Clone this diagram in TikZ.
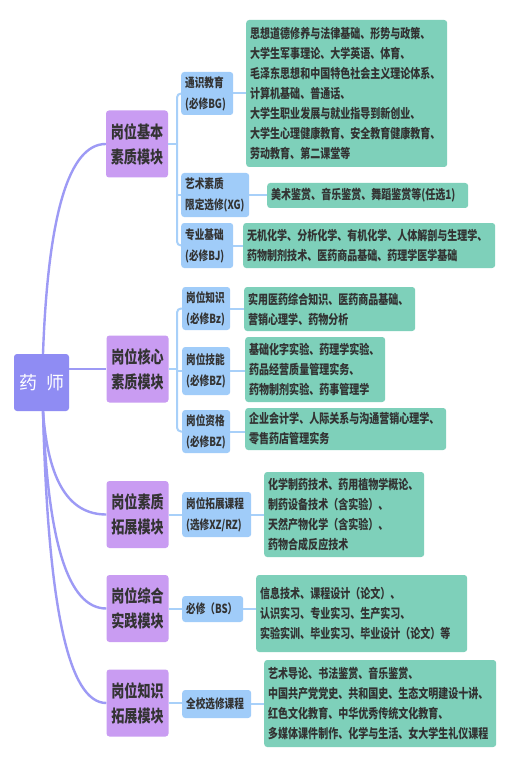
\documentclass[tikz,border=0pt]{standalone}
\usepackage{fontspec}
\setmainfont{Noto Sans CJK SC}[FakeStretch=0.77]
\newfontfamily\rootfont{Noto Sans CJK SC}
\definecolor{rootc}{HTML}{8F8CF3}
\definecolor{lonec}{HTML}{C99CF2}
\definecolor{ltwoc}{HTML}{A0CCF9}
\definecolor{lthreec}{HTML}{7ED0BA}
\definecolor{rline}{HTML}{9D9AF5}
\definecolor{bline}{HTML}{A8D0F9}
\definecolor{txt}{HTML}{333333}
\tikzset{
  box/.style={rounded corners=3pt, inner ysep=0pt, text=txt},
  lone/.style={box, fill=lonec, minimum width=62pt, minimum height=67pt, inner xsep=0pt,
    font=\fontsize{17}{25}\selectfont\bfseries, align=center},
  ltwo/.style={box, fill=ltwoc, anchor=west, inner xsep=4pt, align=left,
    font=\fontsize{12.5}{21}\selectfont\bfseries},
  lthree/.style={box, fill=lthreec, anchor=west, inner xsep=4pt, align=left,
    font=\fontsize{13}{20}\selectfont\bfseries},
  rootline/.style={draw=rline, line width=2.4pt},
  bluel/.style={draw=bline, line width=2pt}
}
\begin{document}
\begin{tikzpicture}[x=1pt,y=-1pt]
\useasboundingbox (0,0) rectangle (511,767);
\fill[white] (0,0) rectangle (511,767);
% root
\node[fill=rootc, rounded corners=3pt, minimum width=55pt, minimum height=57pt, inner sep=0pt,
  text=white, font=\rootfont\fontsize{18}{20}\selectfont] (root) at (41.5,382.5) {药\hspace{9pt}师};
% level 1
\node[lone] (b1) at (137,144) {岗位基本\\素质模块};
\node[lone] (b2) at (137.5,369) {岗位核心\\素质模块};
\node[lone] (b3) at (137.5,514.5) {岗位素质\\拓展模块};
\node[lone] (b4) at (137.5,608.5) {岗位综合\\实践模块};
\node[lone] (b5) at (137.5,703) {岗位知识\\拓展模块};
% level 2
\node[ltwo, text width=44pt, minimum height=43pt] (a1) at (181,93.5) {通识教育\\(必修BG)};
\node[ltwo, text width=60pt, minimum height=44pt] (a2) at (181,195) {艺术素质\\限定选修(XG)};
\node[ltwo, text width=44pt, minimum height=45pt] (a3) at (181,245.5) {专业基础\\(必修BJ)};
\node[ltwo, text width=40pt, minimum height=43pt] (a4) at (182,308.5) {岗位知识\\(必修Bz)};
\node[ltwo, text width=40pt, minimum height=48pt] (a5) at (182,371) {岗位技能\\(必修BZ)};
\node[ltwo, text width=40pt, minimum height=43pt] (a6) at (182,431.5) {岗位资格\\(必修BZ)};
\node[ltwo, text width=61pt, minimum height=45pt] (a7) at (182,514.5) {岗位拓展课程\\(选修XZ/RZ)};
\node[ltwo, text width=53pt, minimum height=26pt] (a8) at (182,609) {必修（BS）};
\node[ltwo, text width=61pt, minimum height=28pt] (a9) at (182,704) {全校选修课程};
% level 3
\node[lthree, text width=193pt, minimum height=147pt] (g1) at (246,93.5) {思想道德修养与法律基础、形势与政策、\\大学生军事理论、大学英语、体育、\\毛泽东思想和中国特色社会主义理论体系、\\计算机基础、普通话、\\大学生职业发展与就业指导到新创业、\\大学生心理健康教育、安全教育健康教育、\\劳动教育、第二课堂等};
\node[lthree, text width=193pt, minimum height=25pt] (g2) at (267,195.5) {美术鉴赏、音乐鉴赏、舞蹈鉴赏等(任选1)};
\node[lthree, text width=244pt, minimum height=45pt] (g3) at (243,245.5) {无机化学、分析化学、有机化学、人体解剖与生理学、\\药物制剂技术、医药商品基础、药理学医学基础};
\node[lthree, text width=163pt, minimum height=44pt] (g4) at (244,309) {实用医药综合知识、医药商品基础、\\营销心理学、药物分析};
\node[lthree, text width=132pt, minimum height=65pt] (g5) at (245,369.5) {基础化字实验、药理学实验、\\药品经营质量管理实务、\\药物制剂实验、药事管理学};
\node[lthree, text width=193pt, minimum height=42pt] (g6) at (245,429) {企业会计学、人际关系与沟通营销心理学、\\零售药店管理实务};
\node[lthree, text width=152pt, minimum height=85pt] (g7) at (264,514.5) {化学制药技术、药用植物学概论、\\制药设备技术（含实验）、\\天然产物化学（含实验）、\\药物合成反应技术};
\node[lthree, text width=203pt, minimum height=77pt] (g8) at (256,613.5) {信息技术、课程设计（论文）、\\认识实习、专业实习、生产实习、\\实验实训、毕业实习、毕业设计（论文）等};
\node[lthree, text width=224pt, minimum height=87pt] (g9) at (264,703.5) {艺术导论、书法鉴赏、音乐鉴赏、\\中国共产党党史、共和国史、生态文明建设十讲、\\红色文化教育、中华优秀传统文化教育、\\多媒体课件制作、化学与生活、女大学生礼仪课程};
% root connectors
\draw[rootline] ([xshift=1.5pt]root.north) .. controls +(5,-139) and +(-37,0) .. (b1.west);
\draw[rootline] (root.east |- b2.west) -- (b2.west);
\draw[rootline] ([xshift=1.5pt]root.south) .. controls +(5,69) and +(-38,0) .. (b3.west);
\draw[rootline] ([xshift=1.5pt]root.south) .. controls +(5,132) and +(-38,0) .. (b4.west);
\draw[rootline] ([xshift=1.5pt]root.south) .. controls +(5,195) and +(-38,0) .. (b5.west);
% level1 -> level2
\coordinate (j1) at (177,144);
\coordinate (j2) at (177,369);
\draw[bluel] (b1.east) -- (j1);
\draw[bluel, rounded corners=4pt] (a1.west) -| (j1) |- (a3.west);
\draw[bluel] (a2.west) -- (a2.west -| j1);
\draw[bluel] (b2.east) -- (j2);
\draw[bluel, rounded corners=4pt] (a4.west) -| (j2) |- (a6.west);
\draw[bluel] (a5.west) -- (a5.west -| j2);
\draw[bluel] (b3.east) -- (b3.east -| a7.west);
\draw[bluel] (b4.east) -- (b4.east -| a8.west);
\draw[bluel] (b5.east) -- (b5.east -| a9.west);
% level2 -> level3
\draw[bluel] (a1.east) -- (a1.east -| g1.west);
\draw[bluel] (a2.east) -- (a2.east -| g2.west);
\draw[bluel] (a3.east) -- (a3.east -| g3.west);
\draw[bluel] (a4.east) -- (a4.east -| g4.west);
\draw[bluel] (a5.east) -- (a5.east -| g5.west);
\draw[bluel] (a6.east) -- (a6.east -| g6.west);
\draw[bluel] (a7.east) -- (a7.east -| g7.west);
\draw[bluel] (a8.east) -- (a8.east -| g8.west);
\draw[bluel] (a9.east) -- (a9.east -| g9.west);
\end{tikzpicture}
\end{document}
